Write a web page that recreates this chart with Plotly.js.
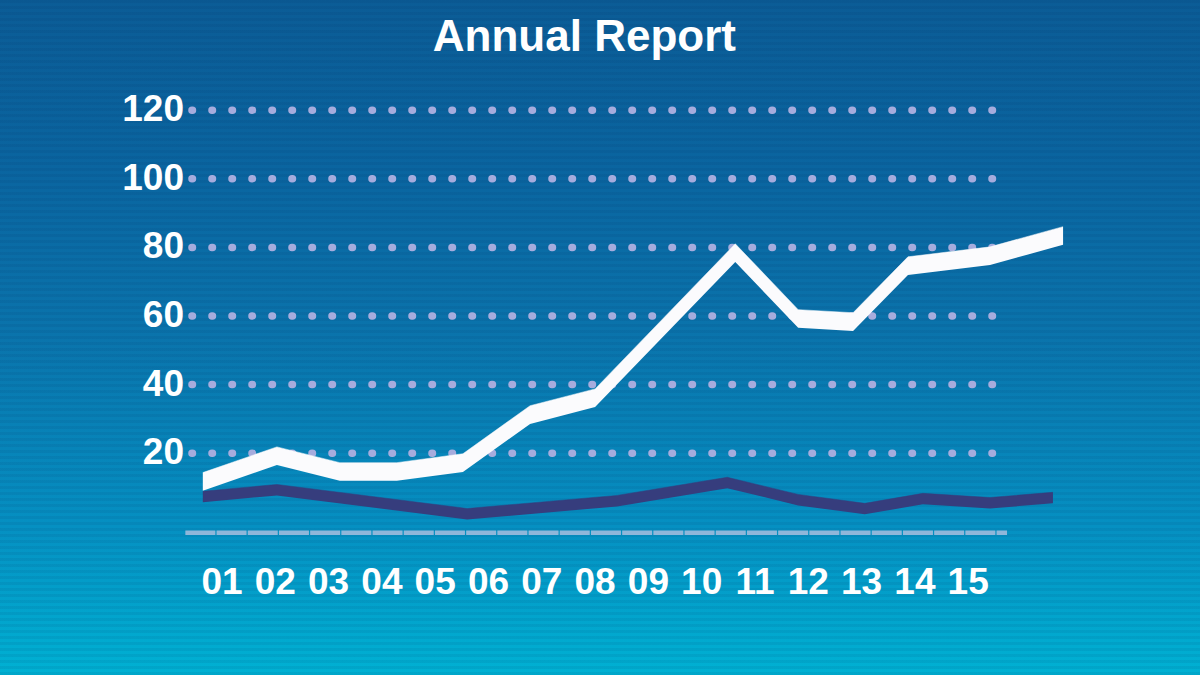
<!DOCTYPE html>
<html>
<head>
<meta charset="utf-8">
<script src="https://cdn.plot.ly/plotly-3.0.1.min.js"></script>
<style>
  html, body { margin: 0; padding: 0; width: 1200px; height: 675px; overflow: hidden; }
  body {
    background:
      repeating-linear-gradient(to bottom, rgba(0,30,80,0.07) 0px, rgba(0,30,80,0.07) 3px, rgba(255,255,255,0) 3px, rgba(255,255,255,0) 6px),
      linear-gradient(to bottom, #0b5c96 0%, #0a65a0 25%, #0a74ac 50%, #0590c2 78%, #00b1d3 100%);
  }
  #chart { width: 1200px; height: 675px; }
</style>
</head>
<body>
<div id="chart"></div>
<script>
// Period tick labels
const periodLabels = ['01','02','03','04','05','06','07','08','09','10','11','12','13','14','15'];
const periodTicks = [1,2,3,4,5,6,7,8,9,10,11,12,13,14,15];

// White series (vertex positions in period units, values)
const whiteX = [0.64, 2.03, 3.21, 4.28, 5.52, 6.78, 8.00, 10.63, 11.81, 12.84, 13.87, 15.41, 16.78];
const whiteY = [11.7, 19.2, 14.6, 14.6, 17.2, 31.2, 36.1, 78.4, 59.2, 58.3, 74.6, 77.5, 83.4];

// Dark series
const darkX = [0.64, 2.03, 5.60, 8.41, 10.48, 11.81, 13.06, 14.15, 15.41, 16.59];
const darkY = [7.3, 9.3, 2.3, 6.1, 11.4, 6.4, 3.8, 6.7, 5.5, 7.0];

// Y tick values
const yTicks = [20, 40, 60, 80, 100, 120];

// ribbon half-thickness (style, in y units)
const whiteHalf = 2.65;
const darkHalf = 1.6;

function ribbon(xs, ys, half, color) {
  const lower = {
    x: xs, y: ys.map(v => v - half), type: 'scatter', mode: 'lines',
    line: {width: 0, color: color}, hoverinfo: 'skip', showlegend: false
  };
  const upper = {
    x: xs, y: ys.map(v => v + half), type: 'scatter', mode: 'lines',
    line: {width: 0.5, color: color}, fill: 'tonexty', fillcolor: color,
    hoverinfo: 'skip', showlegend: false
  };
  return [lower, upper];
}

const traces = [].concat(
  ribbon(whiteX, whiteY, whiteHalf, '#fbfbfd'),
  ribbon(darkX, darkY, darkHalf, '#363d7d')
);

const gridShapes = yTicks.map(v => ({
  type: 'line', xref: 'paper', yref: 'y',
  x0: 0.0045, x1: 0.916, y0: v, y1: v,
  line: {color: '#a6acdd', width: 7.5, dash: '0.5px,19.5px'},
  layer: 'below'
}));

const axisShape = {
  type: 'line', xref: 'paper', yref: 'y',
  x0: -0.003, x1: 0.9286, y0: -3.2, y1: -3.2,
  line: {color: '#8fb7da', width: 4.5, dash: '30px,1.2px'},
  layer: 'below'
};

const tickFont = {family: 'Liberation Sans, Arial, sans-serif', size: 37, color: '#ffffff', weight: 'bold'};

const layout = {
  width: 1200, height: 675,
  paper_bgcolor: 'rgba(0,0,0,0)',
  plot_bgcolor: 'rgba(0,0,0,0)',
  margin: {l: 188, r: 130, t: 93, b: 136},
  title: {
    text: 'Annual Report',
    x: 0.487, xanchor: 'center', xref: 'container',
    y: 0.947, yanchor: 'middle', yref: 'container',
    font: {family: 'Liberation Sans, Arial, sans-serif', size: 44, color: '#ffffff', weight: 'bold'}
  },
  xaxis: {
    range: [0.362, 16.91],
    tickmode: 'array', tickvals: periodTicks, ticktext: periodLabels,
    showgrid: false, zeroline: false, showline: false, ticks: '',
    tickfont: tickFont, ticklabelstandoff: 17, fixedrange: true
  },
  yaxis: {
    range: [-5, 125],
    tickmode: 'array', tickvals: yTicks,
    showgrid: false, zeroline: false, showline: false, ticks: '',
    tickfont: tickFont, ticklabelstandoff: 3, ticklabelshift: -2, fixedrange: true
  },
  shapes: gridShapes.concat([axisShape]),
  showlegend: false
};

Plotly.newPlot('chart', traces, layout, {displayModeBar: false, staticPlot: true}).then(() => {
  document.querySelectorAll('.shapelayer path').forEach(p => {
    if ((p.style.strokeDasharray || '').indexOf('19.5') >= 0) {
      p.style.strokeLinecap = 'round';
    }
  });
});
</script>
</body>
</html>
